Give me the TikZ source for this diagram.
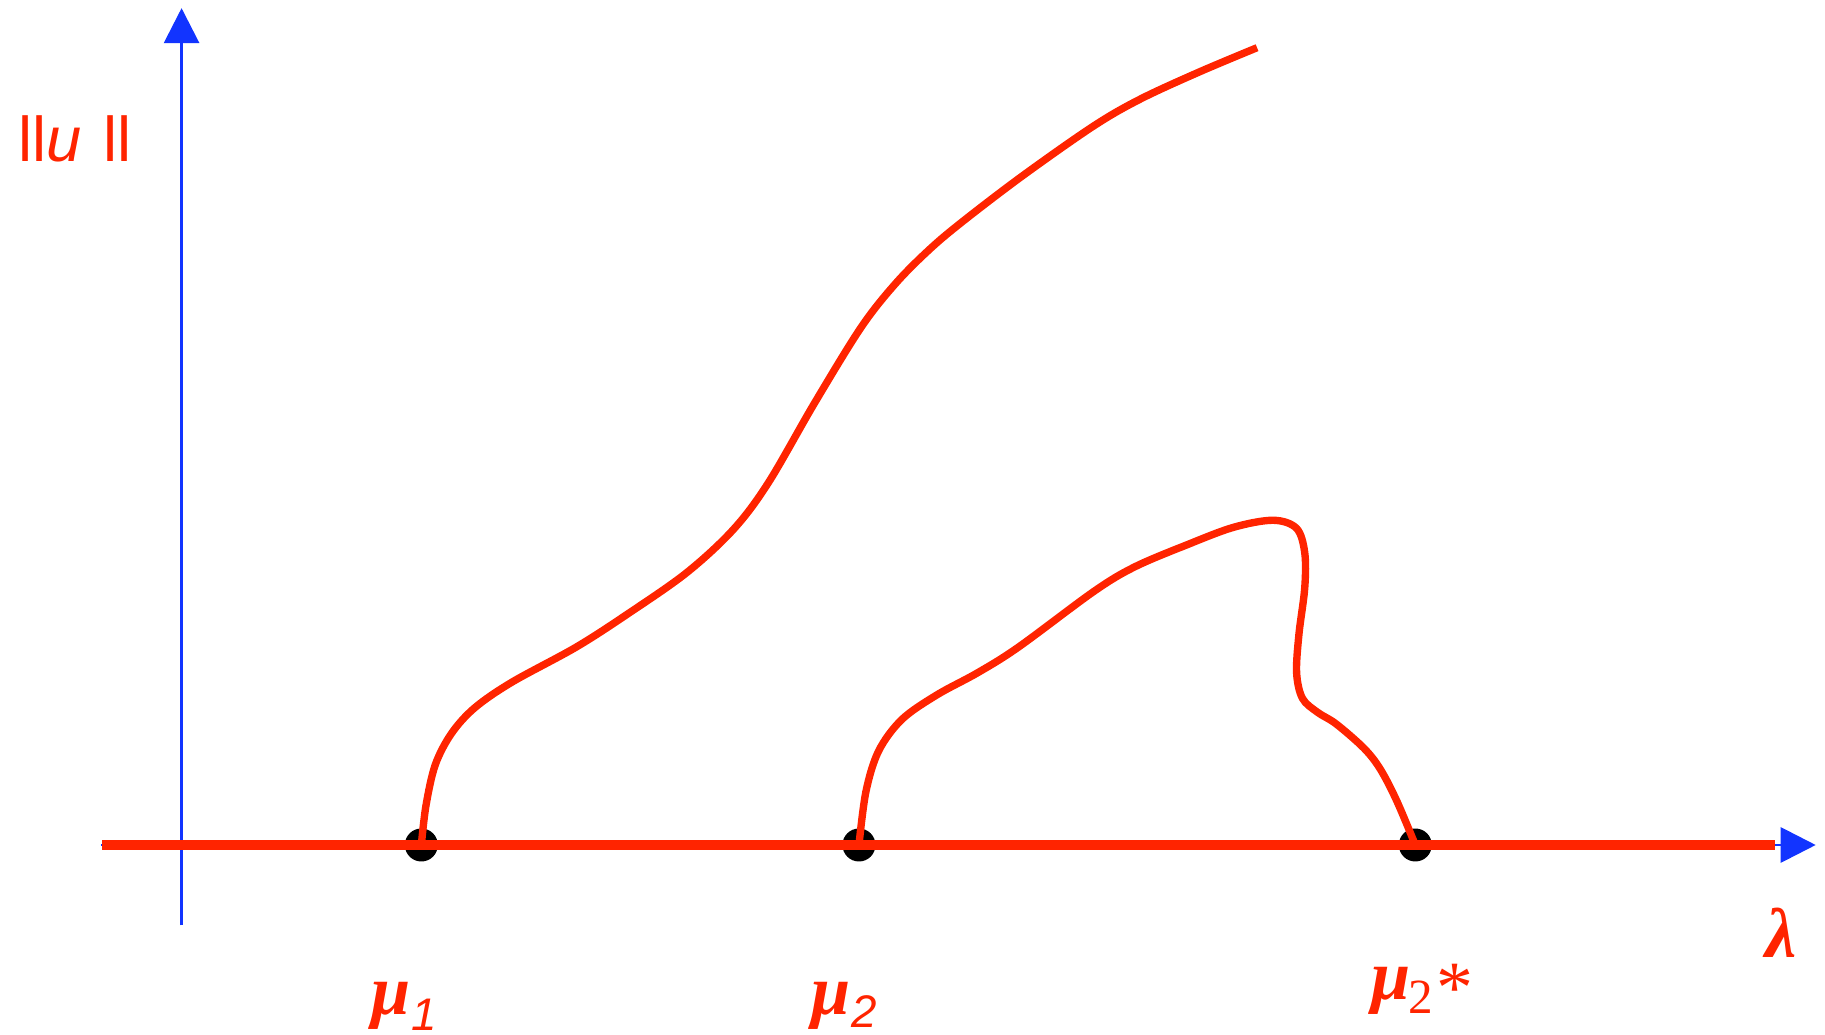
\documentclass[tikz,border=0pt]{standalone}
\usepackage{fontspec}
\setmainfont{Liberation Serif}
\newfontfamily\lsans{Liberation Sans}
\usetikzlibrary{arrows.meta}
\definecolor{cred}{RGB}{255,36,0}
\definecolor{cblue}{RGB}{18,52,255}
\tikzset{
  axisline/.style={cblue, line width=0.85pt, -{Triangle[length=0.35cm,width=0.35cm]}},
  baseline red/.style={cred, line width=2.6pt},
  branch/.style={cred, line width=2.1pt, line join=round},
  bif/.style={circle, fill=black, inner sep=0pt, minimum size=0.33cm},
  lab/.style={text=cred, font=\fontsize{20}{24}\selectfont, inner sep=0pt, anchor=base west}
}
\begin{document}
\begin{tikzpicture}[x=0.011639cm, y=-0.011639cm]
\useasboundingbox (0,0) rectangle (1568,889);
% axes
\coordinate (ybot) at (156,795);
\coordinate (ytop) at (156,7);
\coordinate (xleft) at (87,726);
\coordinate (xtip) at (1560,726);
\coordinate (xredstart) at (88,726);
\coordinate (xredend) at (1525,726);
\draw[axisline] (ybot) -- (ytop);
\draw[axisline] (xleft) -- (xtip);
% bifurcation points
\node[bif] (m1) at (362,726) {};
\node[bif] (m2) at (738,726) {};
\node[bif] (m3) at (1216,726) {};
\draw[baseline red] (xredstart) -- (xredend);
% branches
\draw[branch] plot[smooth, tension=0.55] coordinates {
 (m1.center) (366,692) (374,657) (388,630) (408,608) (440,586) (495,556)
 (540,527) (590,492) (630,455) (660,415) (700,346) (740,281) (770,243)
 (800,213) (830,188) (880,150) (940,108) (980,85) (1030,62) (1080,41)};
\draw[branch] plot[smooth, tension=0.55] coordinates {
 (m2.center) (744,680) (755,645) (775,618) (805,597) (840,578) (875,556)
 (940,508) (975,487) (1020,468) (1060,453) (1094,447) (1114,454) (1121,475)
 (1121,505) (1116,545) (1114,578) (1119,600) (1132,612) (1148,622)
 (1172,643) (1186,661) (1200,688) (m3.center)};
% labels
\node[lab, font=\lsans\fontsize{18}{22}\selectfont] (unorm) at (15,139) {ll\textit{u}\hspace{0.35em}ll};
\node[lab] (lmu1) at (319,872) {\textbf{\textit{μ}}\raisebox{-4.3pt}{\lsans\textit{\fontsize{13}{16}\selectfont 1}}};
\node[lab] (lmu2) at (697,872) {\textbf{\textit{μ}}\raisebox{-3.6pt}{\lsans\textit{\fontsize{13}{16}\selectfont 2}}};
\node[lab] (lmu3) at (1178,859) {\textbf{\textit{μ}}\kern-0.8pt\raisebox{-3.8pt}{\fontsize{14}{16}\selectfont 2}\kern1pt\raisebox{-3.6pt}{\fontsize{21}{24}\selectfont *}};
\node[lab] (llam) at (1516,823) {\textbf{\textit{λ}}};
\end{tikzpicture}
\end{document}
